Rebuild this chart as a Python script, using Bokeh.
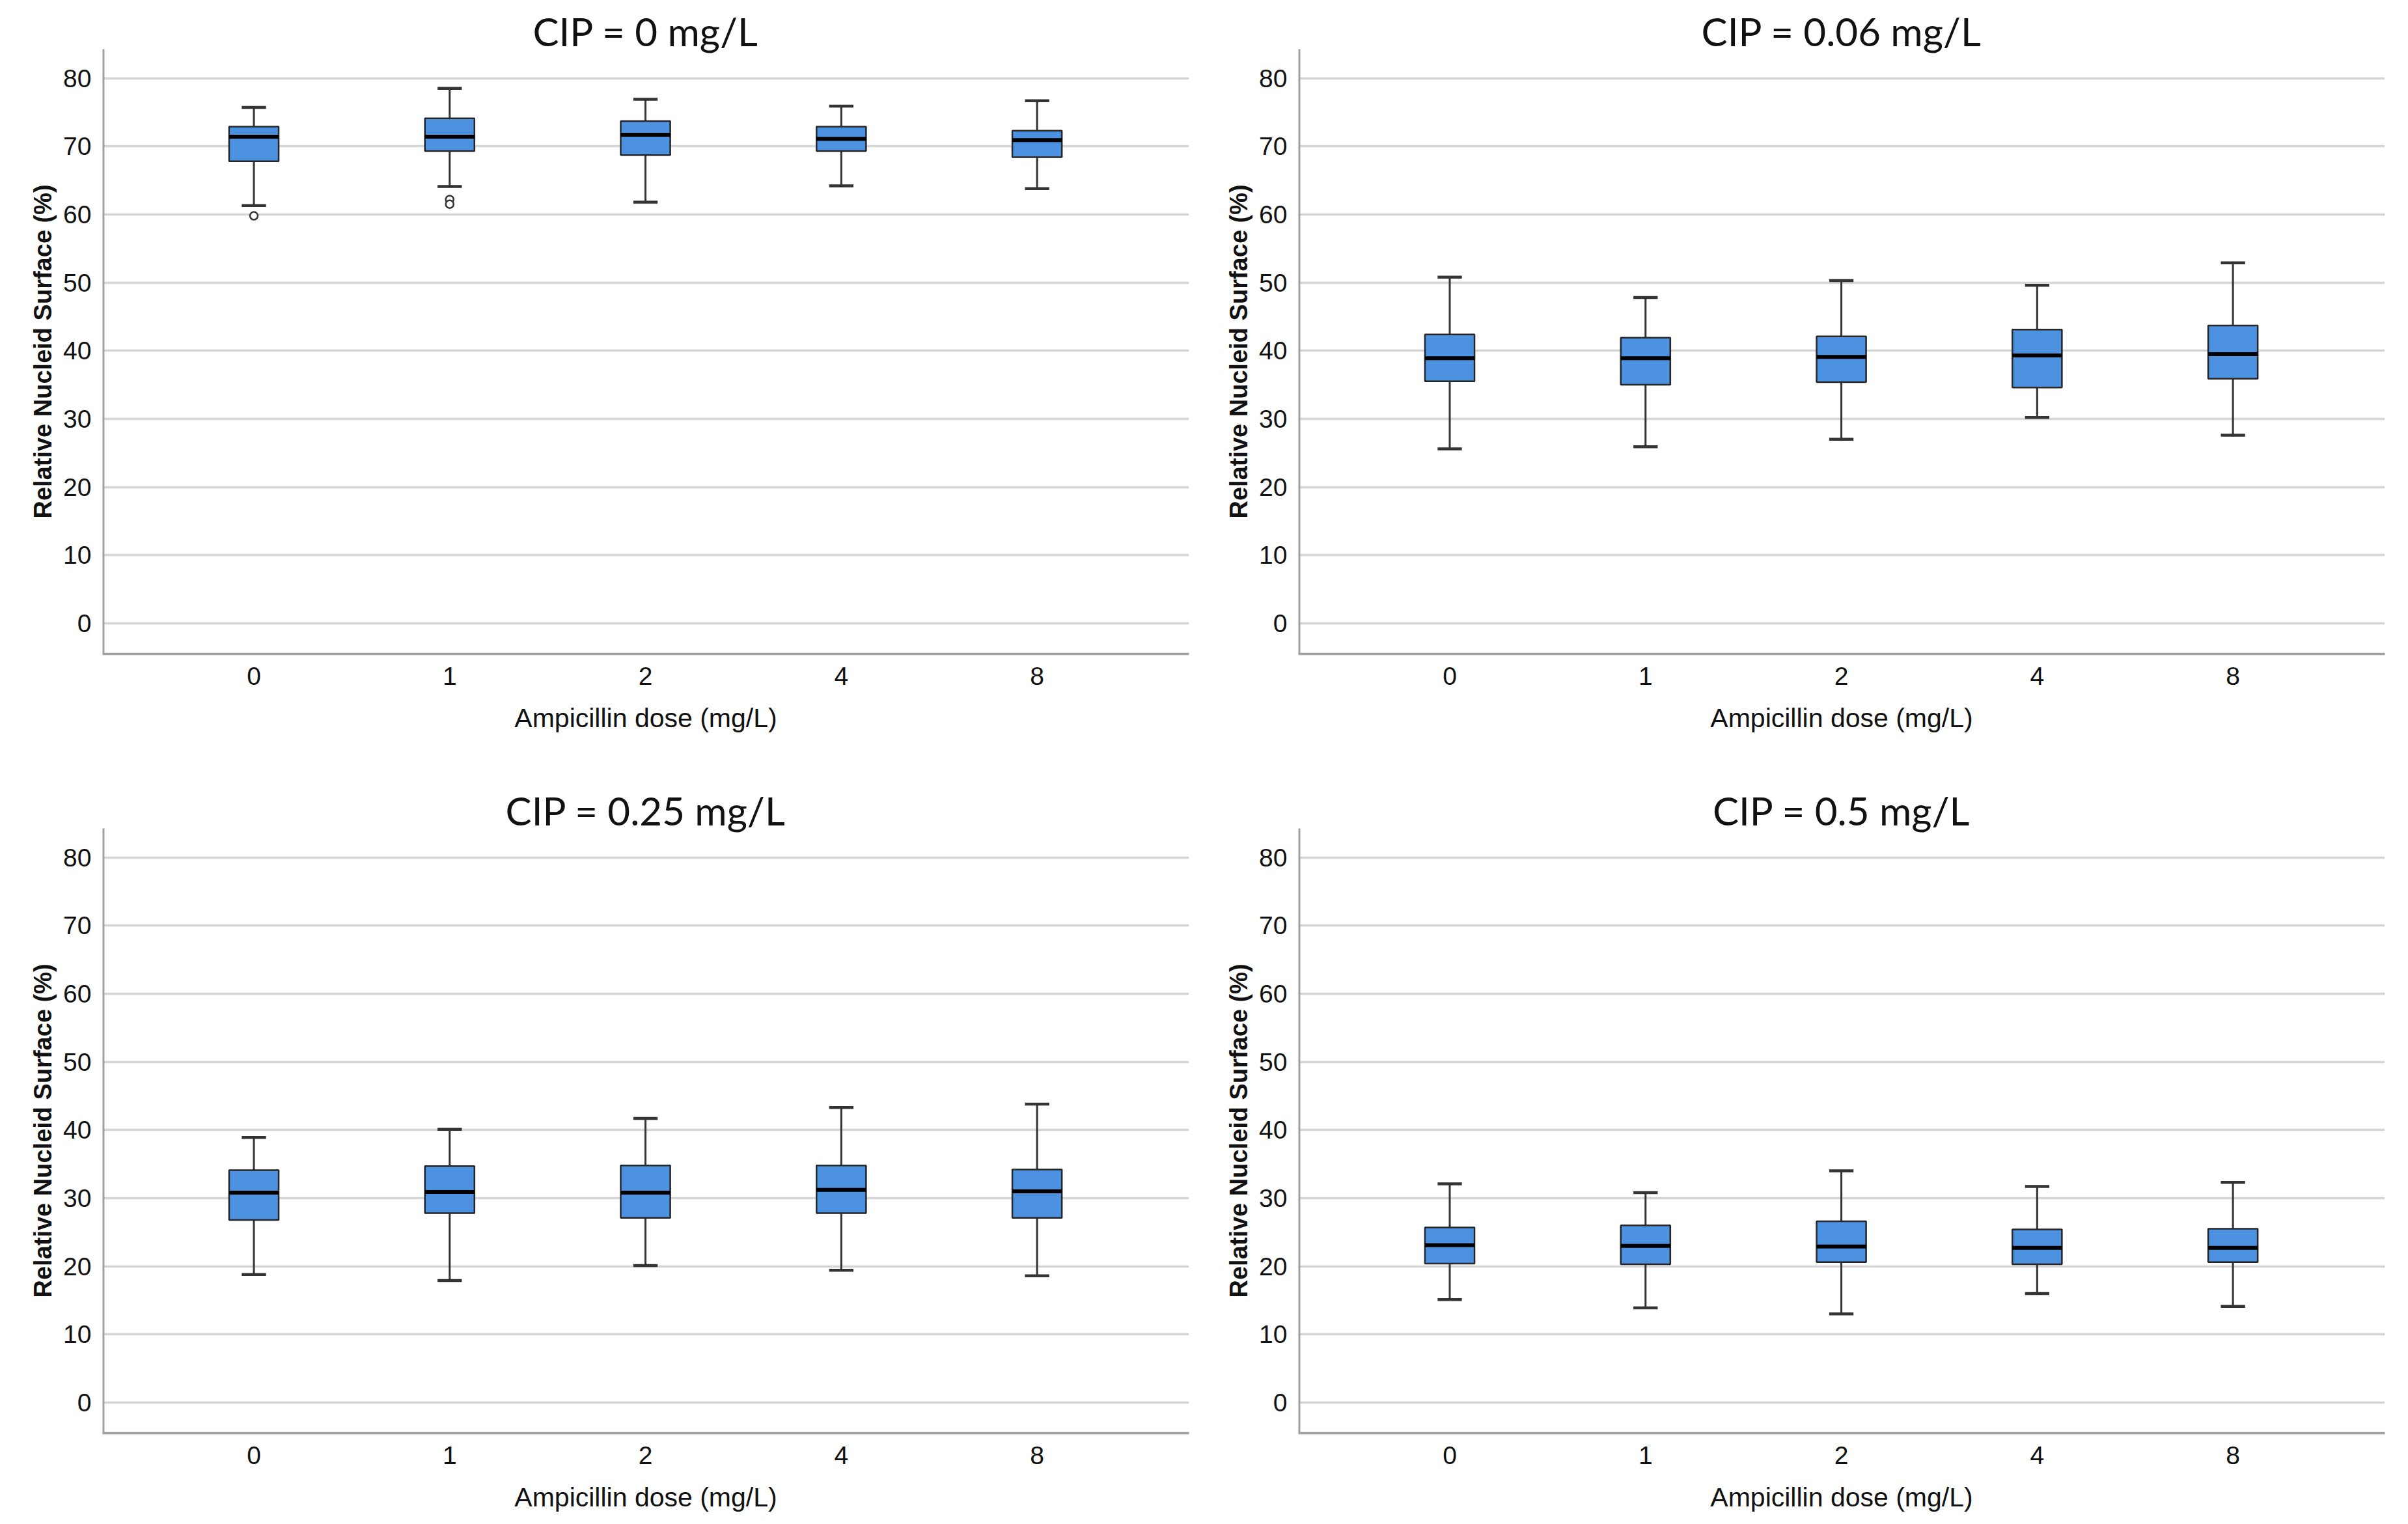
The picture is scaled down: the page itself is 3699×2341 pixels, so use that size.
from bokeh.plotting import figure
from bokeh.layouts import column, row
from bokeh.models import FixedTicker, Range1d, Label, Title
from bokeh.embed import file_html
from bokeh.resources import INLINE

# ---------------- data ----------------
doses = ["0", "1", "2", "4", "8"]
y_ticks = [0, 10, 20, 30, 40, 50, 60, 70, 80]

titles = ["CIP = 0 mg/L", "CIP = 0.06 mg/L", "CIP = 0.25 mg/L", "CIP = 0.5 mg/L"]
x_label = "Ampicillin dose (mg/L)"
y_label = "Relative Nucleid Surface (%)"

cip0_low = [61.3, 64.1, 61.8, 64.2, 63.8]
cip0_q1 = [67.8, 69.3, 68.7, 69.3, 68.4]
cip0_med = [71.4, 71.4, 71.7, 71.1, 70.9]
cip0_q3 = [72.9, 74.1, 73.7, 72.9, 72.3]
cip0_high = [75.7, 78.5, 76.9, 75.9, 76.7]
cip0_out_dose = ["0", "1", "1"]
cip0_out_val = [59.8, 62.2, 61.5]

cip006_low = [25.6, 25.9, 27.0, 30.2, 27.6]
cip006_q1 = [35.5, 35.0, 35.4, 34.6, 35.9]
cip006_med = [38.9, 38.9, 39.1, 39.3, 39.5]
cip006_q3 = [42.4, 41.9, 42.1, 43.1, 43.7]
cip006_high = [50.8, 47.8, 50.3, 49.6, 52.9]
cip006_out_dose = []
cip006_out_val = []

cip025_low = [18.8, 17.9, 20.1, 19.4, 18.6]
cip025_q1 = [26.8, 27.8, 27.1, 27.8, 27.1]
cip025_med = [30.8, 30.9, 30.8, 31.2, 31.0]
cip025_q3 = [34.1, 34.7, 34.8, 34.8, 34.2]
cip025_high = [38.9, 40.1, 41.7, 43.3, 43.8]
cip025_out_dose = []
cip025_out_val = []

cip05_low = [15.1, 13.9, 13.0, 16.0, 14.1]
cip05_q1 = [20.4, 20.3, 20.6, 20.3, 20.6]
cip05_med = [23.1, 23.0, 22.9, 22.7, 22.7]
cip05_q3 = [25.7, 26.0, 26.6, 25.4, 25.5]
cip05_high = [32.1, 30.8, 34.0, 31.7, 32.3]
cip05_out_dose = []
cip05_out_val = []

# ---------------- styling ----------------
BOX_FILL = "#4d91e1"
BOX_LINE = "#262626"
WHISK = "#333333"
GRID = "#d6d6d6"
AXIS = "#a0a0a0"
TXT = "#111111"
TICK_FONT = "Liberation Sans"
TITLE_FONT = "Lato"

BOX_W = 0.253
CAP_HALF = 0.062
FRAME_W, FRAME_H = 1669, 992
Y0 = -4.5           # bottom of plot area
Y_AX_TOP = 84.25    # where the vertical axis line stops
Y1 = 90.28          # top of drawing area (room for the panel title)
X0, X1 = -0.773, 4.776


def make_panel(title, low, q1, med, q3, high, out_dose, out_val,
               bl, br, bt, bb):
    p = figure(
        frame_width=FRAME_W, frame_height=FRAME_H,
        x_range=Range1d(X0, X1), y_range=Range1d(Y0, Y1),
        output_backend="svg", toolbar_location=None,
        min_border_left=bl, min_border_right=br,
        min_border_top=bt, min_border_bottom=bb,
    )
    p.outline_line_color = None
    p.background_fill_color = "white"
    p.border_fill_color = "white"

    # grid
    p.xgrid.visible = False
    p.ygrid.ticker = FixedTicker(ticks=y_ticks)
    p.ygrid.grid_line_color = GRID
    p.ygrid.grid_line_width = 3.5

    # axes
    p.yaxis.ticker = FixedTicker(ticks=y_ticks)
    xs = list(range(len(doses)))
    p.xaxis.ticker = FixedTicker(ticks=xs)
    p.xaxis.major_label_overrides = {i: d for i, d in zip(xs, doses)}
    for ax in (p.xaxis[0], p.yaxis[0]):
        ax.axis_line_color = AXIS
        ax.axis_line_width = 3.5
        ax.major_tick_line_color = None
        ax.minor_tick_line_color = None
        ax.major_label_text_font = TICK_FONT
        ax.major_label_text_font_size = "39px"
        ax.major_label_text_color = TXT
    p.yaxis.axis_line_color = None
    p.xaxis.axis_label = x_label
    p.xaxis.axis_label_text_font = TICK_FONT
    p.xaxis.axis_label_text_font_style = "normal"
    p.xaxis.axis_label_text_color = TXT
    p.xaxis.axis_label_text_font_size = "41px"
    p.xaxis.major_label_standoff = 14
    p.xaxis.axis_label_standoff = 25
    p.yaxis.major_label_standoff = 11

    # y-axis title, centred on the value area (not on the title strip)
    p.add_layout(Title(text=y_label, align="left", offset=208, standoff=16,
                       text_font=TICK_FONT, text_font_size="38px",
                       text_font_style="bold", text_color=TXT), "left")

    # vertical axis line (stops at the top of the value area)
    p.segment(x0=[X0 + 0.004], y0=[Y0], x1=[X0 + 0.004], y1=[Y_AX_TOP],
              line_color=AXIS, line_width=3.5)

    # panel title
    p.add_layout(Label(x=(X0 + X1) / 2, y=Y_AX_TOP + 2.6, text=title,
                       text_align="center", text_baseline="middle",
                       text_font=TITLE_FONT, text_font_size="60px",
                       text_color=TXT))

    # whisker stems
    p.segment(x0=xs, y0=low, x1=xs, y1=q1, line_color=WHISK, line_width=3)
    p.segment(x0=xs, y0=q3, x1=xs, y1=high, line_color=WHISK, line_width=3)
    # caps
    left = [x - CAP_HALF for x in xs]
    right = [x + CAP_HALF for x in xs]
    p.segment(x0=left, y0=low, x1=right, y1=low, line_color=WHISK, line_width=4.5)
    p.segment(x0=left, y0=high, x1=right, y1=high, line_color=WHISK, line_width=4.5)
    # boxes
    p.vbar(x=xs, width=BOX_W, bottom=q1, top=q3, fill_color=BOX_FILL,
           line_color=BOX_LINE, line_width=2.5)
    # medians
    bl_ = [x - BOX_W / 2 for x in xs]
    br_ = [x + BOX_W / 2 for x in xs]
    p.segment(x0=bl_, y0=med, x1=br_, y1=med, line_color="black", line_width=6)
    # outliers
    if out_dose:
        ox = [doses.index(d) for d in out_dose]
        p.scatter(x=ox, y=out_val, marker="circle", size=12,
                  fill_color="white", line_color="#333333", line_width=2.5)
    return p


p1 = make_panel(titles[0], cip0_low, cip0_q1, cip0_med, cip0_q3, cip0_high,
                cip0_out_dose, cip0_out_val, 157, 23, 12, 160)
p2 = make_panel(titles[1], cip006_low, cip006_q1, cip006_med, cip006_q3, cip006_high,
                cip006_out_dose, cip006_out_val, 145, 27, 12, 160)
p3 = make_panel(titles[2], cip025_low, cip025_q1, cip025_med, cip025_q3, cip025_high,
                cip025_out_dose, cip025_out_val, 157, 23, 45, 132)
p4 = make_panel(titles[3], cip05_low, cip05_q1, cip05_med, cip05_q3, cip05_high,
                cip05_out_dose, cip05_out_val, 145, 27, 45, 132)

layout = column(row(p1, p2), row(p3, p4))

open("out.html", "w").write(file_html(layout, INLINE))
